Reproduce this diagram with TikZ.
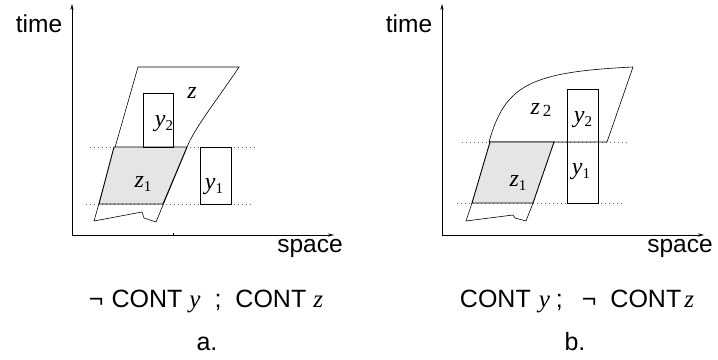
\documentclass[tikz,border=0pt]{standalone}
\usepackage{fontspec}
\setmainfont{Liberation Sans}
\newfontfamily\tms{Liberation Serif}
\usetikzlibrary{arrows.meta}
\newcommand\mvar[2]{{\fontsize{24}{24}\selectfont\tms\itshape #1}\raisebox{-4pt}{\fontsize{15}{15}\selectfont\tms #2}}
\newcommand\ivar[1]{{\tms\itshape #1}}
\begin{document}
\begin{tikzpicture}[x=1pt,y=-1pt,
  ax/.style={line width=0.6pt,-{Stealth[length=6pt,width=3.2pt]}},
  ln/.style={line width=0.6pt},
  reg/.style={line width=0.9pt,fill=black!10},
  dotl/.style={line width=0.6pt,black!60,dash pattern=on 0.8pt off 3.2pt},
  lab/.style={inner sep=0pt},
  axlab/.style={inner sep=0pt,anchor=base,font=\fontsize{24.5}{24.5}\selectfont},
  captxt/.style={inner sep=0pt,anchor=base,font=\fontsize{25}{25}\selectfont},
]
\useasboundingbox (0,0) rectangle (718,359);

% ---------------- panel a ----------------
\coordinate (oa) at (72,235);
\coordinate (ta) at (72,4);
\coordinate (sa) at (334,235);
\draw[ax] (oa) -- (ta);
\draw[ax] (oa) -- (sa);
\draw[ln] (173,235) -- (173,232.5);
\node[axlab] (timea) at (39,32) {time};
\node[axlab] (spacea) at (310,252) {space};

\draw[dotl] (90,147) -- (257,147);
\draw[dotl] (86,204) -- (253,204);

\draw[ln] (138,67) -- (239,67) .. controls (222,93) and (195,127) .. (187,147)
  -- (156,222) -- (144,218) -- (142,212) -- (94,221) -- cycle;
\filldraw[reg] (114,147) -- (187,147) -- (163,204) -- (99,204) -- cycle;
\draw[ln] (143,93) rectangle (173,147);
\draw[ln] (200,147) rectangle (231,204);

\node[lab] (za) at (192,93) {\fontsize{24}{24}\selectfont\tms\itshape z};
\node[lab] (y2a) at (164,124) {\mvar{y}{2}};
\node[lab] (z1a) at (143,184) {\mvar{z}{1}};
\node[lab] (y1a) at (214,187) {\mvar{y}{1}};

\node[captxt] (capa) at (206,307) {¬\hspace{8pt}CONT\hspace{7pt}\ivar{y}\hspace{14pt};\hspace{14pt}CONT\hspace{7pt}\ivar{z}};
\node[captxt] (la) at (207,350) {a.};

% ---------------- panel b ----------------
\coordinate (ob) at (442,235);
\coordinate (tb) at (442,4);
\coordinate (sb) at (704,235);
\draw[ax] (ob) -- (tb);
\draw[ax] (ob) -- (sb);
\node[axlab] (timeb) at (409,32) {time};
\node[axlab] (spaceb) at (680,252) {space};

\draw[dotl] (462,142) -- (627,142);
\draw[dotl] (457,203) -- (623,203);

\draw[ln] (489,142) .. controls (505,85) and (530,72) .. (633,67) -- (607,142) -- cycle;
\filldraw[reg] (490,142) -- (554,142) -- (533,203) -- (472,203) -- cycle;
\draw[ln] (472,203) -- (466,221) -- (513,215) -- (515,218) -- (526,221) -- (533,203);
\draw[ln] (567,89) rectangle (598,203);

\node[lab] (z2b) at (541,110) {\fontsize{24}{24}\selectfont\tms\itshape z\hspace{3pt}\raisebox{-2pt}{\fontsize{17}{17}\selectfont\upshape 2}};
\node[lab] (y2b) at (583,120) {\mvar{y}{2}};
\node[lab] (y1b) at (581,172) {\mvar{y}{1}};
\node[lab] (z1b) at (518,183) {\mvar{z}{1}};

\node[captxt] (capb) at (577,307) {CONT\hspace{8pt}\ivar{y}\hspace{6pt};\hspace{19pt}¬\hspace{14pt}CONT\hspace{3pt}\ivar{z}};
\node[captxt] (lb) at (575,350) {b.};
\end{tikzpicture}
\end{document}
